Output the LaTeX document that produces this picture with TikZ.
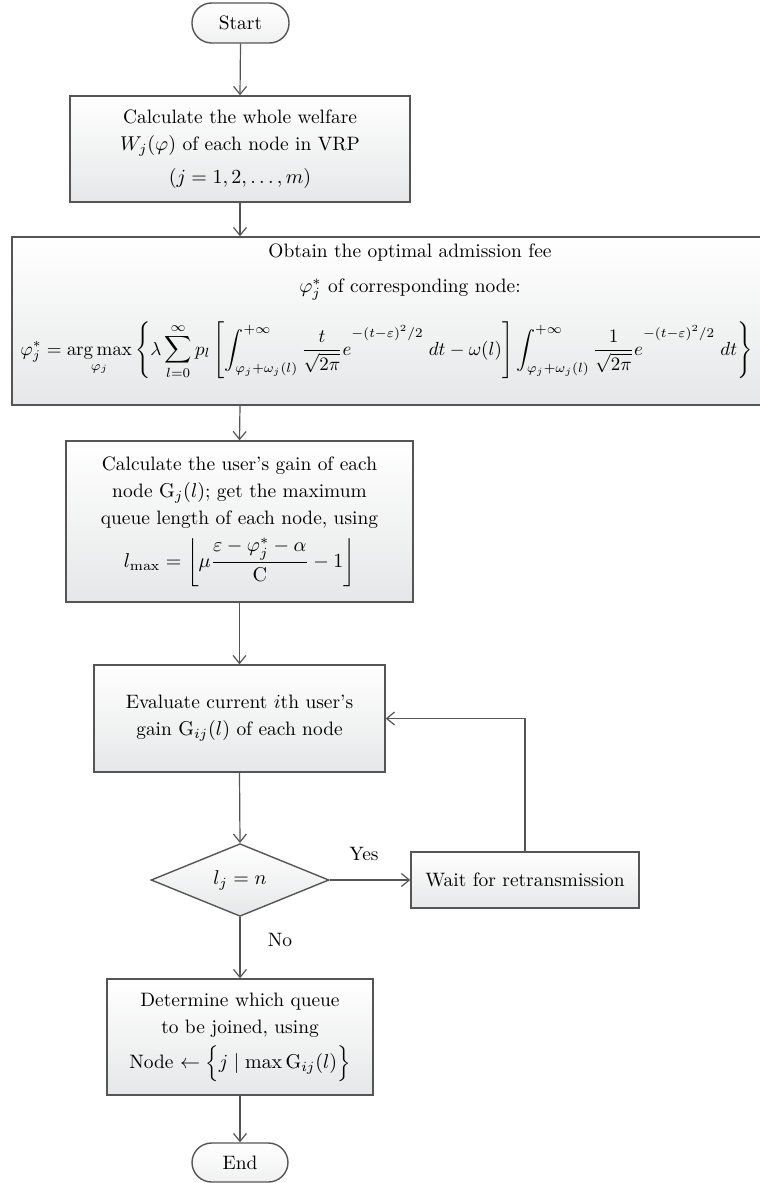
\documentclass[tikz,border=0pt]{standalone}
\usepackage{amsmath}
\usepackage{graphicx}
\usetikzlibrary{arrows.meta,shapes.geometric}
\definecolor{linegray}{HTML}{555555}
\definecolor{boxgray}{HTML}{E6E7E8}
\newcommand{\expsup}{\raisebox{5pt}{$\scriptstyle -(t-\varepsilon)^2/2$}}
\begin{document}
\begin{tikzpicture}[x=0.5pt,y=-0.5pt,
  font=\fontsize{9.7}{13.5}\selectfont,
  box/.style={draw=linegray, line width=0.7pt, top color=white, bottom color=boxgray,
              align=center, inner sep=0pt},
  term/.style={draw=linegray, line width=0.7pt, top color=white, bottom color=boxgray!60,
               rounded corners=9.8pt, inner sep=0pt},
  dec/.style={diamond, draw=linegray, line width=0.7pt, top color=white, bottom color=boxgray,
              inner sep=0pt},
  arr/.style={draw=linegray, line width=0.6pt, -{Straight Barb[length=4pt,width=6.5pt]}},
  lab/.style={inner sep=0pt}
]
\clip (0,0) rectangle (760,1183);
\fill[white] (0,0) rectangle (760,1183);

% nodes
\node[term, minimum width=48.5pt, minimum height=20pt] (start) at (240.5,23) {Start};

\node[box, minimum width=170pt, minimum height=53pt] (b1) at (240,149)
  {Calculate the whole welfare\\ $W_j(\varphi)$ of each node in VRP\\[3pt] $(j = 1, 2, \ldots, m)$};

\node[box, minimum width=402pt, minimum height=84pt] (b2) at (414,321) {};
\node[lab, align=center] (b2t) at (410,272)
  {Obtain the optimal admission fee\\[4pt] $\varphi_j^*$ of corresponding node:};
\node[lab, anchor=base west] (b2f) at (20,355)
  {\resizebox{366pt}{!}{$\displaystyle \varphi_j^* = \operatorname*{arg\,max}_{\varphi_j}\left\{\lambda\sum_{l=0}^{\infty}p_l\left[\int_{\varphi_j+\omega_j(l)}^{+\infty}\frac{t}{\sqrt{2\pi}}e^{\expsup}\;dt-\omega(l)\right]\int_{\varphi_j+\omega_j(l)}^{+\infty}\frac{1}{\sqrt{2\pi}}e^{\expsup}\;dt\right\}$}};

\node[box, minimum width=173.5pt, minimum height=80.5pt] (b3) at (239.5,521.5)
  {Calculate the user's gain of each\\ node $\mathrm{G}_j(l)$; get the maximum\\ queue length of each node, using\\[4pt]
   $l_{\max} = \left\lfloor \mu\dfrac{\varepsilon-\varphi_j^*-\alpha}{\mathrm{C}} - 1\right\rfloor$};

\node[box, minimum width=145.5pt, minimum height=53.5pt] (b4) at (239.5,718.5)
  {Evaluate current $i$th user's\\ gain $\mathrm{G}_{ij}(l)$ of each node};

\node[dec, minimum width=89pt, minimum height=33.5pt] (d) at (240,880) {$l_j = n$};

\node[box, minimum width=114pt, minimum height=28pt] (w) at (525,880) {Wait for retransmission};

\node[box, minimum width=133pt, minimum height=58pt] (b5) at (240,1037)
  {Determine which queue\\ to be joined, using\\[4pt]
   Node $\leftarrow \Big\{ j \mid \max \mathrm{G}_{ij}(l)\Big\}$};

\node[term, minimum width=48pt, minimum height=19.5pt] (end) at (240,1162.5) {End};

% connectors
\draw[arr] (start.south) -- (b1.north);
\draw[arr] (b1.south) -- (b1.south |- b2.north);
\draw[arr] (b1.south |- b2.south) -- (b3.north);
\draw[arr] (b3.south) -- (b4.north);
\draw[arr] (b4.south) -- (d.north);
\draw[arr] (d.east) -- (w.west);
\draw[arr] (w.north) |- (b4.east);
\draw[arr] (d.south) -- (b5.north);
\draw[arr] (b5.south) -- (end.north);

\node[lab] (yes) at (364,854) {Yes};
\node[lab] (no) at (280,940) {No};
\end{tikzpicture}
\end{document}
